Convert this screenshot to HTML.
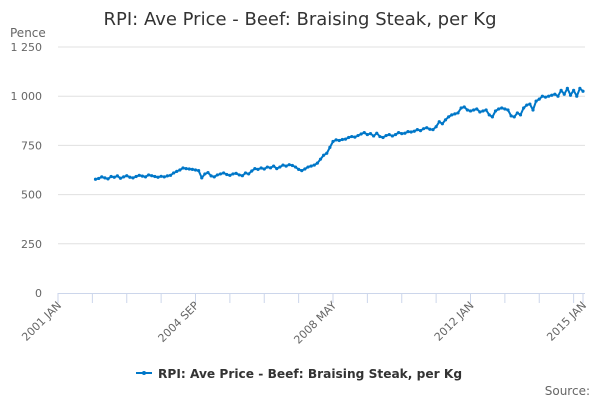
<!DOCTYPE html>
<html><head><meta charset="utf-8"><style>
body{margin:0;background:#fff;font-family:"DejaVu Sans","Liberation Sans",sans-serif;}
svg text{font-family:"DejaVu Sans","Liberation Sans",sans-serif;}
</style></head><body>
<svg id="chart" width="600" height="400" viewBox="0 0 600 400" xmlns="http://www.w3.org/2000/svg">
<rect width="600" height="400" fill="#fff"/>
<text x="300" y="25" text-anchor="middle" font-size="18" fill="#333">RPI: Ave Price - Beef: Braising Steak, per Kg</text>
<text x="10" y="37" font-size="12" fill="#666">Pence</text>
<g id="grid"></g><g id="yticks"></g><g id="xaxis"></g><g id="series"></g>
<g>
<line x1="136" y1="373" x2="152" y2="373" stroke="#0077c8" stroke-width="2"/>
<circle cx="144" cy="373" r="2" fill="#0077c8"/>
<text x="158" y="378" font-size="12.2" font-weight="bold" fill="#333">RPI: Ave Price - Beef: Braising Steak, per Kg</text>
</g>
<text x="590" y="395" text-anchor="end" font-size="12" fill="#666">Source:</text>
</svg>
<script>
const yTicks=[0,250,500,750,1000,1250];
const yTickLabels=["0","250","500","750","1 000","1 250"];
const xLabels=["2001 JAN","2004 SEP","2008 MAY","2012 JAN","2015 JAN"];
const xLabelMonths=[0,44,88,132,168];
const startMonth=12; // 2002 JAN, months since 2001 JAN
const values=[578,582,590,585,580,592,588,595,583,590,596,588,
585,592,598,594,590,600,596,592,588,593,590,595,
598,610,618,625,635,632,630,628,625,622,585,605,
612,595,590,600,605,610,602,598,605,608,600,596,
610,605,620,632,628,635,630,640,636,645,632,640,
650,645,652,648,640,628,622,630,640,645,650,660,
680,700,710,740,770,778,775,780,782,790,795,792,
800,808,815,805,810,798,812,795,790,800,805,798,
805,815,810,812,820,818,822,830,825,835,840,832,
830,845,870,860,880,895,905,910,915,940,945,930,
925,930,935,920,925,930,905,895,925,935,940,935,
930,900,895,915,905,940,955,960,930,975,985,1000,
995,1000,1005,1010,1000,1030,1010,1040,1005,1030,1000,1040,
1025];
const NS="http://www.w3.org/2000/svg";
const x=m=>58+m*(525/168);
const y=v=>293-v*(246/1250);
function mk(tag,attrs,parent){const e=document.createElementNS(NS,tag);for(const k in attrs)e.setAttribute(k,attrs[k]);parent.appendChild(e);return e;}
const grid=document.getElementById('grid'),yt=document.getElementById('yticks'),xa=document.getElementById('xaxis'),se=document.getElementById('series');
yTicks.forEach((v,i)=>{
 if(v>0){const g=mk('line',{x1:58,x2:585,y1:y(v),y2:y(v),stroke:'#e0e0e0','stroke-width':1},grid);
 
 }
 const t=mk('text',{x:42,y:y(v)+4,'text-anchor':'end','font-size':11,fill:'#666'},yt);t.textContent=yTickLabels[i];
 
 
});
const ax=mk('line',{x1:58,x2:585,y1:293.5,y2:293.5,stroke:'#ccd6eb','stroke-width':1},xa);


for(let m=0;m<=168;m+=11){const t=mk('line',{x1:x(m),x2:x(m),y1:293,y2:303,stroke:'#ccd6eb'},xa);
 
 }
const lt=mk('line',{x1:x(168),x2:x(168),y1:293,y2:303,stroke:'#ccd6eb'},xa);


xLabels.forEach((l,i)=>{const px=x(xLabelMonths[i]);const t=mk('text',{x:px+4,y:306,'text-anchor':'end','font-size':11,fill:'#666',transform:`rotate(-45 ${px+4} 306)`},xa);t.textContent=l;
 
 });
const pts=values.map((v,i)=>[x(startMonth+i),y(v)]);
const p=mk('path',{d:'M'+pts.map(q=>q[0].toFixed(1)+','+q[1].toFixed(1)).join('L'),fill:'none',stroke:'#0077c8','stroke-width':2,'stroke-linejoin':'round'},se);


pts.forEach(q=>{const c=mk('circle',{cx:q[0],cy:q[1],r:1.6,fill:'#0077c8'},se);
 
 });
</script>
</body></html>
